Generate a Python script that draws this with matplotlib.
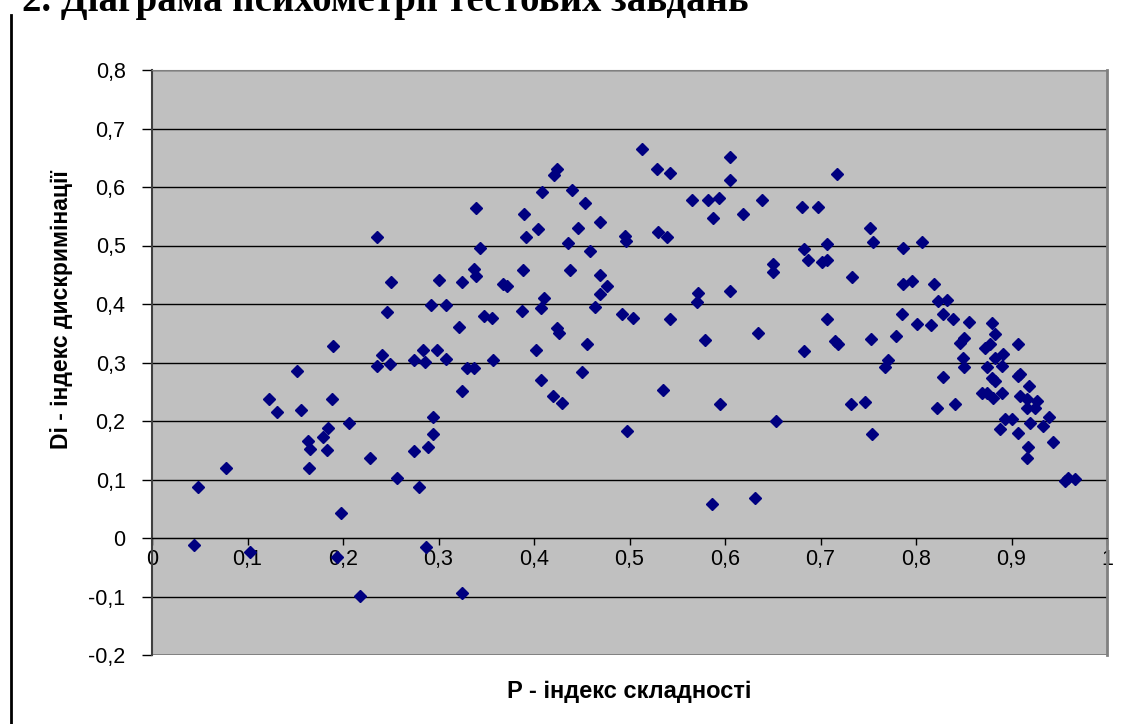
import matplotlib
matplotlib.use("Agg")
import matplotlib.pyplot as plt
from matplotlib.ticker import FuncFormatter, MultipleLocator
from matplotlib.lines import Line2D

# P - difficulty index, Di - discrimination index
p_index = [
    0.044, 0.048, 0.077, 0.103, 0.123, 0.131, 0.152, 0.156, 0.163, 0.165,
    0.164, 0.179, 0.183, 0.184, 0.188, 0.190, 0.194, 0.198, 0.206, 0.218,
    0.228, 0.236, 0.241, 0.236, 0.249, 0.246, 0.250, 0.257, 0.274, 0.274,
    0.280, 0.284, 0.286, 0.287, 0.289, 0.292, 0.294, 0.294, 0.298, 0.301,
    0.308, 0.308, 0.321, 0.325, 0.325, 0.325, 0.330, 0.337, 0.337, 0.339,
    0.339, 0.343, 0.348, 0.356, 0.357, 0.368, 0.372, 0.387, 0.388, 0.390,
    0.392, 0.402, 0.404, 0.407, 0.407, 0.408, 0.410, 0.420, 0.421, 0.424,
    0.424, 0.426, 0.429, 0.436, 0.438, 0.440, 0.446, 0.450, 0.453, 0.455,
    0.459, 0.464, 0.469, 0.469, 0.469, 0.476, 0.492, 0.495, 0.496, 0.497,
    0.504, 0.513, 0.529, 0.530, 0.535, 0.539, 0.542, 0.542, 0.565, 0.571,
    0.572, 0.579, 0.582, 0.586, 0.587, 0.594, 0.595, 0.605, 0.605, 0.605,
    0.619, 0.631, 0.635, 0.639, 0.650, 0.650, 0.653, 0.681, 0.683, 0.683,
    0.687, 0.697, 0.702, 0.707, 0.707, 0.707, 0.715, 0.717, 0.718, 0.732,
    0.733, 0.747, 0.752, 0.753, 0.754, 0.755, 0.768, 0.771, 0.779, 0.785,
    0.786, 0.786, 0.796, 0.801, 0.806, 0.816, 0.819, 0.822, 0.823, 0.828,
    0.828, 0.832, 0.839, 0.841, 0.846, 0.849, 0.850, 0.850, 0.855, 0.869,
    0.872, 0.874, 0.874, 0.877, 0.880, 0.880, 0.881, 0.883, 0.883, 0.883,
    0.888, 0.890, 0.890, 0.891, 0.893, 0.900, 0.907, 0.907, 0.907, 0.909,
    0.909, 0.916, 0.916, 0.916, 0.917, 0.918, 0.919, 0.925, 0.927, 0.933,
    0.939, 0.943, 0.956, 0.959, 0.966,
]
di_index = [
    -0.012, 0.087, 0.120, -0.024, 0.238, 0.216, 0.285, 0.219, 0.165, 0.152,
    0.120, 0.173, 0.150, 0.188, 0.238, 0.328, -0.032, 0.043, 0.197, -0.099,
    0.137, 0.515, 0.313, 0.294, 0.297, 0.386, 0.438, 0.103, 0.304, 0.149,
    0.087, 0.321, 0.301, -0.015, 0.156, 0.398, 0.207, 0.178, 0.321, 0.441,
    0.398, 0.306, 0.361, 0.438, 0.251, -0.094, 0.291, 0.291, 0.460, 0.448,
    0.564, 0.496, 0.379, 0.376, 0.304, 0.434, 0.431, 0.388, 0.458, 0.554,
    0.515, 0.321, 0.528, 0.393, 0.270, 0.591, 0.410, 0.243, 0.621, 0.631,
    0.359, 0.350, 0.231, 0.504, 0.458, 0.595, 0.530, 0.284, 0.573, 0.332,
    0.491, 0.395, 0.540, 0.450, 0.417, 0.431, 0.383, 0.516, 0.508, 0.183,
    0.376, 0.665, 0.631, 0.523, 0.253, 0.515, 0.624, 0.374, 0.578, 0.403,
    0.419, 0.338, 0.578, 0.058, 0.547, 0.581, 0.229, 0.651, 0.612, 0.422,
    0.554, 0.068, 0.350, 0.578, 0.468, 0.455, 0.200, 0.566, 0.494, 0.320,
    0.475, 0.566, 0.472, 0.503, 0.475, 0.374, 0.337, 0.622, 0.332, 0.229,
    0.446, 0.232, 0.530, 0.340, 0.178, 0.506, 0.292, 0.304, 0.345, 0.383,
    0.496, 0.434, 0.439, 0.366, 0.506, 0.364, 0.434, 0.222, 0.405, 0.383,
    0.275, 0.407, 0.374, 0.229, 0.333, 0.308, 0.342, 0.292, 0.369, 0.248,
    0.325, 0.292, 0.248, 0.332, 0.367, 0.274, 0.239, 0.349, 0.308, 0.268,
    0.186, 0.294, 0.248, 0.314, 0.203, 0.203, 0.332, 0.277, 0.179, 0.280,
    0.243, 0.238, 0.222, 0.137, 0.156, 0.260, 0.197, 0.222, 0.234, 0.191,
    0.207, 0.164, 0.097, 0.103, 0.101,
]

title = "2. Діаграма психометрії тестових завдань"
x_title = "P - індекс складності"
y_title = "Di - індекс дискримінації"

plt.rcParams["font.family"] = ["Liberation Sans", "DejaVu Sans"]

fig = plt.figure(figsize=(11.41, 7.24), dpi=100)
ax = fig.add_axes([152 / 1141, 1 - 655 / 724, 955 / 1141, 585 / 724])

ax.set_facecolor("#c0c0c0")
ax.set_xlim(0, 1)
ax.set_ylim(-0.2, 0.8)
ax.xaxis.set_major_locator(MultipleLocator(0.1))
ax.yaxis.set_major_locator(MultipleLocator(0.1))

fmt = FuncFormatter(lambda v, pos: ("%g" % round(v, 1)).replace(".", ","))
ax.xaxis.set_major_formatter(fmt)
ax.yaxis.set_major_formatter(fmt)

ax.grid(axis="y", color="#000000", linewidth=1, zorder=1)
ax.grid(axis="x", visible=False)
ax.set_axisbelow(True)

ax.spines["bottom"].set_position(("data", 0))
ax.spines["bottom"].set_color("#000000")
ax.spines["left"].set_color("#404040")
ax.spines["left"].set_linewidth(1.5)
ax.spines["top"].set_color("#808080")
ax.spines["right"].set_color("#808080")
ax.spines["right"].set_linewidth(2)
ax.axhline(-0.2, color="#808080", linewidth=2, zorder=2)

ax.tick_params(axis="y", direction="out", length=7, width=1, labelsize=15.5, pad=12)
ax.tick_params(axis="x", direction="out", length=5, width=1, labelsize=15.5, pad=3)

ax.plot(p_index, di_index, linestyle="none", marker="D", markersize=6,
        color="#000080", zorder=3)

ax.set_xlabel(x_title, fontsize=17, fontweight="bold")
ax.xaxis.set_label_coords(0.5, -0.043)
ax.set_ylabel(y_title, fontsize=16.5, fontweight="bold")
ax.yaxis.set_label_coords(-0.083, 0.59)

fig.text(22 / 1141, 1 - 11 / 724, title, fontsize=28, fontweight="bold",
         family=["Liberation Serif", "DejaVu Serif"], va="baseline", ha="left")
fig.add_artist(Line2D([11 / 1141, 11 / 1141], [0, 1 - 15 / 724],
                      transform=fig.transFigure, color="black", linewidth=2))

fig.savefig("out.png", dpi=100)
